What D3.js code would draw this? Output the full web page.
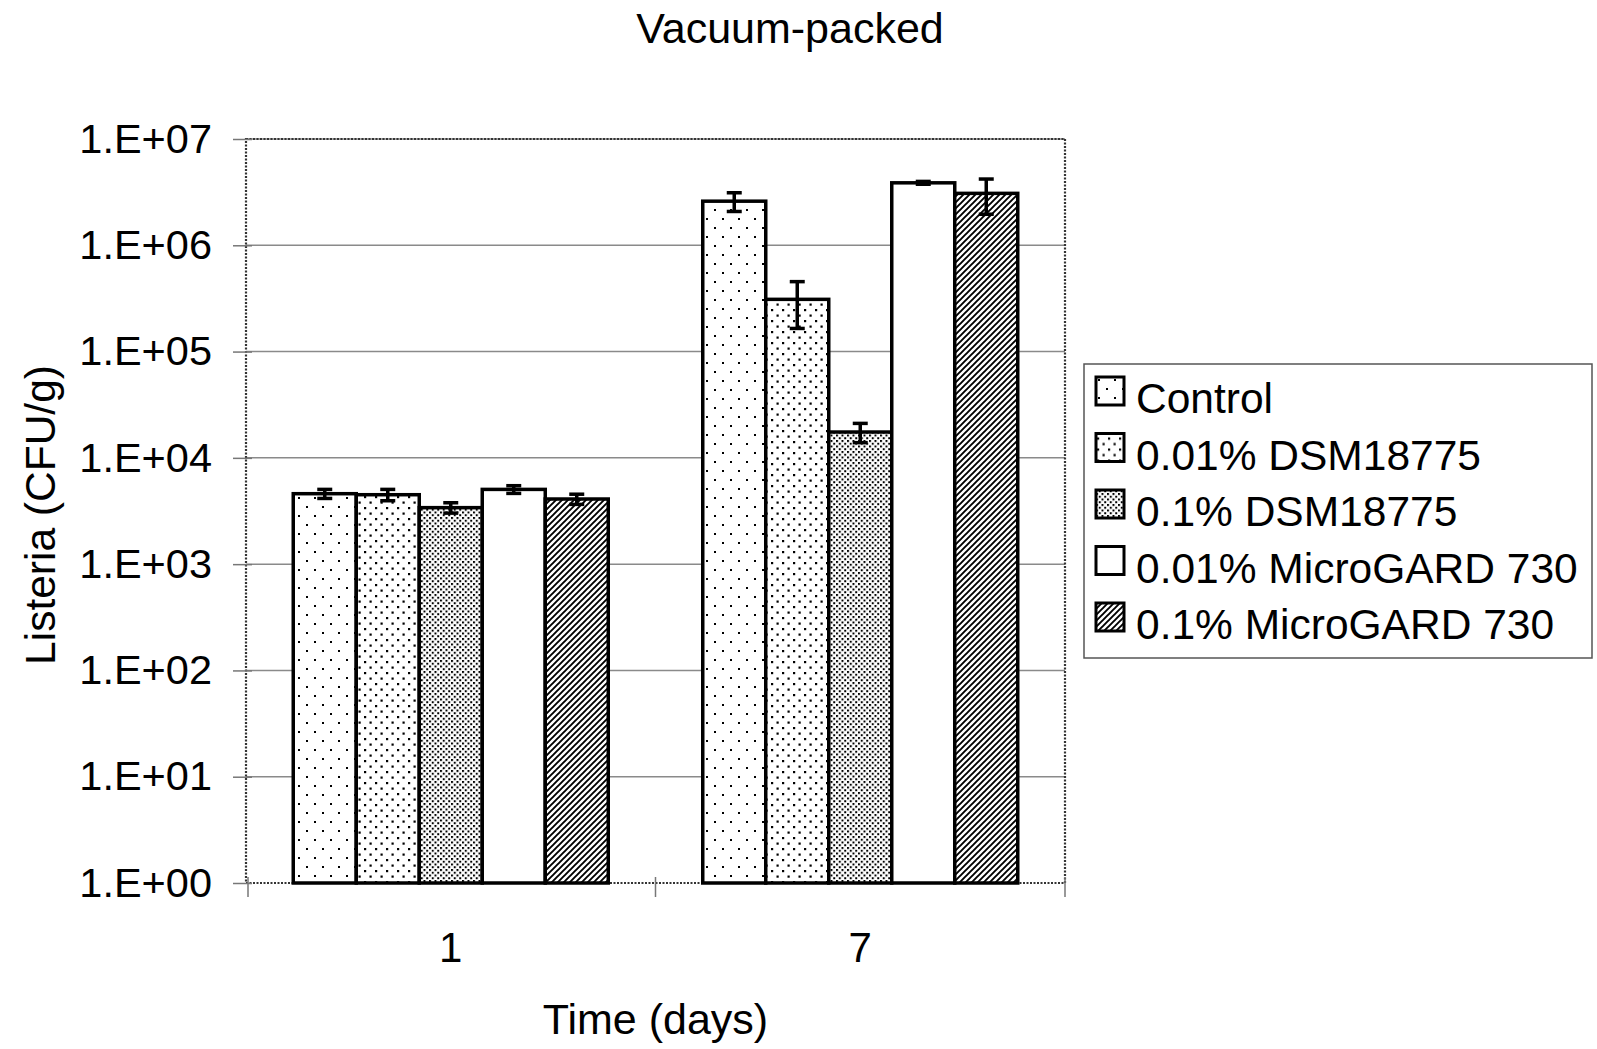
<!DOCTYPE html>
<html>
<head>
<meta charset="utf-8">
<script src="https://cdn.jsdelivr.net/npm/d3@7"></script>
<style>
  html, body { margin: 0; padding: 0; background: #fff; }
  svg { display: block; font-family: "Liberation Sans", Arial, sans-serif; }
</style>
</head>
<body>
<svg id="chart" width="1597" height="1049"></svg>
<script>
// Listeria counts (CFU/g) in vacuum-packed samples, by day and treatment
const categories = ["1", "7"];
const seriesNames = [
  "Control",
  "0.01% DSM18775",
  "0.1% DSM18775",
  "0.01% MicroGARD 730",
  "0.1% MicroGARD 730"
];
const day1Means  = [4600, 4500, 3400, 5050, 4100];
const day1Errors = [450, 550, 380, 420, 450];
const day7Means  = [2600000, 310000, 17500, 3870000, 3080000];
const day7Errors = [520000, 145000, 3600, 120000, 1120000];
const yTickValues = [1, 10, 100, 1000, 10000, 100000, 1000000, 10000000];
const yTickLabels = ["1.E+00", "1.E+01", "1.E+02", "1.E+03", "1.E+04", "1.E+05", "1.E+06", "1.E+07"];
const patternIds = ["pControl", "pDsmLow", "pDsmHigh", "pMgLow", "pMgHigh"];

const meansByDay = [day1Means, day7Means];
const errorsByDay = [day1Errors, day7Errors];

const svg = d3.select("#chart");
const plot = { left: 246, right: 1065, top: 139, bottom: 883 };

// Fill patterns for the bars
const defs = svg.append("defs");
function dotPattern(id, size, dots, r) {
  const p = defs.append("pattern").attr("id", id)
    .attr("patternUnits", "userSpaceOnUse")
    .attr("width", size[0]).attr("height", size[1]);
  p.append("rect").attr("width", size[0]).attr("height", size[1]).attr("fill", "#fff");
  dots.forEach(d => p.append("rect").attr("x", d[0]).attr("y", d[1])
    .attr("width", r).attr("height", r).attr("fill", "#000"));
}
dotPattern("pControl", [16, 18], [[2, 2], [10, 11]], 2);
dotPattern("pDsmLow", [11, 11], [[1, 1], [6.5, 6.5]], 2.2);
dotPattern("pDsmHigh", [5.5, 5.5], [[0, 0], [2.75, 2.75]], 2);
defs.append("pattern").attr("id", "pMgLow")
  .attr("patternUnits", "userSpaceOnUse").attr("width", 4).attr("height", 4)
  .append("rect").attr("width", 4).attr("height", 4).attr("fill", "#fff");
const hatch = defs.append("pattern").attr("id", "pMgHigh")
  .attr("patternUnits", "userSpaceOnUse").attr("width", 6).attr("height", 6);
hatch.append("rect").attr("width", 6).attr("height", 6).attr("fill", "#fff");
hatch.append("path").attr("d", "M-1,7 L7,-1 M-1,1 L1,-1 M5,7 L7,5")
  .attr("stroke", "#000").attr("stroke-width", 1.9);

// Scales
const y = d3.scaleLog().domain([1, 1e7]).range([plot.bottom, plot.top]);
const x0 = d3.scaleBand().domain(categories).range([plot.left, plot.right]).padding(0);
const x1 = d3.scaleBand().domain(seriesNames).range([0, x0.bandwidth()])
  .paddingInner(0).paddingOuter(0.75);

// Gridlines
svg.append("g").selectAll("line").data(yTickValues.slice(1)).join("line")
  .attr("x1", plot.left).attr("x2", plot.right)
  .attr("y1", d => y(d)).attr("y2", d => y(d))
  .attr("stroke", "#8a8a8a").attr("stroke-width", 1.5);

// Plot area border (dotted)
svg.append("rect")
  .attr("x", plot.left).attr("y", plot.top)
  .attr("width", plot.right - plot.left).attr("height", plot.bottom - plot.top)
  .attr("fill", "none").attr("stroke", "#333").attr("stroke-width", 2.2)
  .attr("stroke-dasharray", "2,1.5");

// Y axis
const yAxis = d3.axisLeft(y).tickValues(yTickValues)
  .tickFormat((d, i) => yTickLabels[i]).tickSize(0).tickPadding(34);
const yg = svg.append("g").attr("transform", `translate(${plot.left},0)`).call(yAxis);
yg.select(".domain").remove();
yg.selectAll("text").attr("font-size", 41.5).attr("fill", "#000")
  .attr("font-family", "'Liberation Sans', Arial, sans-serif");
yg.selectAll(".tick").append("line")
  .attr("x1", -13).attr("x2", 6).attr("stroke", "#777").attr("stroke-width", 1.5);

// X axis
const xg = svg.append("g").attr("transform", `translate(0,${plot.bottom})`);
const xTickPos = [plot.left + 2, ...categories.map(c => x0(c) + x0.bandwidth())];
xg.selectAll("line").data(xTickPos).join("line")
  .attr("x1", d => d).attr("x2", d => d).attr("y1", -6).attr("y2", 14)
  .attr("stroke", "#777").attr("stroke-width", 1.5);
xg.selectAll("text").data(categories).join("text")
  .attr("x", d => x0(d) + x0.bandwidth() / 2).attr("y", 79)
  .attr("text-anchor", "middle").attr("font-size", 42).text(d => d);

// Bars
const barData = [];
categories.forEach((c, ci) => seriesNames.forEach((s, si) => barData.push({
  cat: c, series: s, si, value: meansByDay[ci][si], err: errorsByDay[ci][si]
})));
const bars = svg.append("g");
bars.selectAll("rect").data(barData).join("rect")
  .attr("x", d => x0(d.cat) + x1(d.series))
  .attr("width", x1.bandwidth())
  .attr("y", d => y(d.value))
  .attr("height", d => plot.bottom - y(d.value))
  .attr("fill", d => `url(#${patternIds[d.si]})`)
  .attr("stroke", "#000").attr("stroke-width", 3.5);

// Error bars
const eb = svg.append("g").attr("stroke", "#000").attr("stroke-width", 3.5);
barData.forEach(d => {
  const cx = x0(d.cat) + x1(d.series) + x1.bandwidth() / 2;
  const yt = y(d.value + d.err), yb = y(d.value - d.err);
  eb.append("line").attr("x1", cx).attr("x2", cx).attr("y1", yt).attr("y2", yb);
  eb.append("line").attr("x1", cx - 7.5).attr("x2", cx + 7.5).attr("y1", yt).attr("y2", yt);
  eb.append("line").attr("x1", cx - 7.5).attr("x2", cx + 7.5).attr("y1", yb).attr("y2", yb);
});

// Titles
svg.append("text").attr("x", 790).attr("y", 43).attr("text-anchor", "middle")
  .attr("font-size", 43).text("Vacuum-packed");
svg.append("text").attr("transform", `translate(55,${(plot.top + plot.bottom) / 2 + 4}) rotate(-90)`)
  .attr("text-anchor", "middle").attr("font-size", 42.5).text("Listeria (CFU/g)");
svg.append("text").attr("x", (plot.left + plot.right) / 2).attr("y", 1034)
  .attr("text-anchor", "middle").attr("font-size", 43).text("Time (days)");

// Legend
const legend = svg.append("g");
legend.append("rect").attr("x", 1084).attr("y", 364).attr("width", 508).attr("height", 294)
  .attr("fill", "#fff").attr("stroke", "#555").attr("stroke-width", 1.5);
const items = legend.selectAll("g.item").data(seriesNames).join("g")
  .attr("class", "item")
  .attr("transform", (d, i) => `translate(1096,${413 + i * 56.5})`);
items.append("rect").attr("x", 0).attr("y", -36).attr("width", 28).attr("height", 28)
  .attr("fill", (d, i) => `url(#${patternIds[i]})`)
  .attr("stroke", "#000").attr("stroke-width", 3);
items.append("text").attr("x", 40).attr("y", 0).attr("font-size", 42.5).text(d => d);
</script>
</body>
</html>
